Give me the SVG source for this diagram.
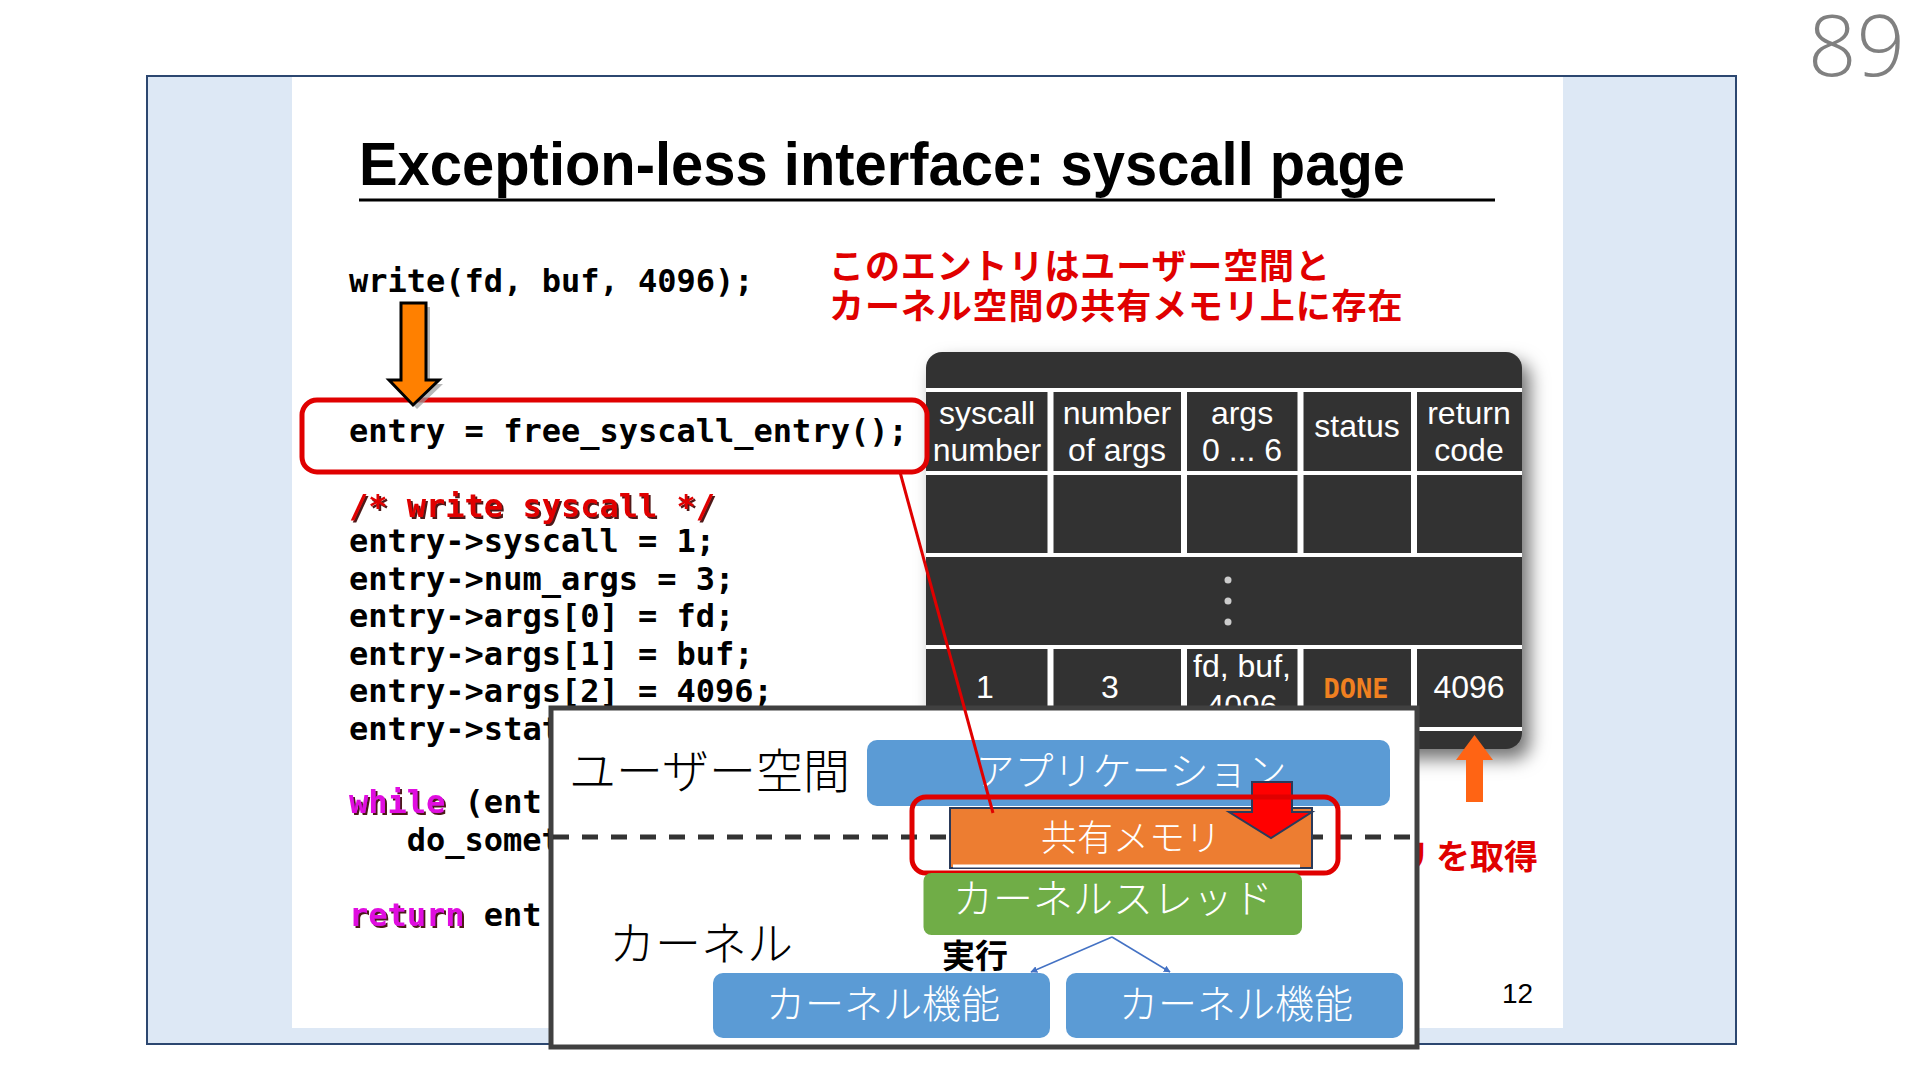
<svg xmlns="http://www.w3.org/2000/svg" width="1920" height="1080" viewBox="0 0 1920 1080">
<defs>
<style>
.code{font-family:"DejaVu Sans Mono","Liberation Mono",monospace;font-weight:bold;font-size:32px;fill:#000}
.kw{fill:#e010e0}
.cm{fill:#e00000}
.jp{font-family:"Noto Sans CJK JP","Noto Sans",sans-serif}
.red{fill:#e00000;font-weight:bold}
.tbl{font-family:"Liberation Sans",Arial,sans-serif;font-size:32px;fill:#fff;text-anchor:middle}
.wl{stroke:#fff;stroke-width:4}
.wv{stroke:#fff;stroke-width:6}
.boxtxt{font-family:"Noto Sans CJK JP",sans-serif;font-weight:300;fill:#fff;text-anchor:middle}
.lbl{font-family:"Noto Sans CJK JP",sans-serif;font-weight:300;fill:#000}
.blue{fill:#5b9bd5}
</style>
<filter id="shadow" x="-10%" y="-10%" width="130%" height="130%">
<feDropShadow dx="8" dy="10" stdDeviation="9" flood-color="#000" flood-opacity="0.55"/>
</filter>
<filter id="tsh" x="-5%" y="-20%" width="110%" height="140%">
<feDropShadow dx="2" dy="2" stdDeviation="0.4" flood-color="#3a0000" flood-opacity="0.9"/>
</filter>
<marker id="bah" viewBox="0 0 10 10" refX="9" refY="5" markerWidth="7" markerHeight="7" orient="auto" markerUnits="userSpaceOnUse">
<path d="M0,0 L10,5 L0,10 z" fill="#4472c4"/>
</marker>
</defs>

<g id="background">
<rect x="147" y="76" width="1589" height="968" fill="#dde8f5" stroke="#2c4770" stroke-width="2"/>
<rect x="292" y="77" width="1271" height="951" fill="#ffffff"/>
</g>

<g id="title">
<text x="359" y="185" font-family="Liberation Sans,Arial,sans-serif" font-weight="bold" font-size="62" textLength="1046" lengthAdjust="spacingAndGlyphs" fill="#000">Exception-less interface: syscall page</text>
<line x1="359" y1="200" x2="1495" y2="200" stroke="#000" stroke-width="3"/>
</g>

<g id="code">
<text class="code" x="349" y="292">write(fd, buf, 4096);</text>
<text class="code" x="349" y="442">entry = free_syscall_entry();</text>
<text class="code cm" x="349" y="517" filter="url(#tsh)">/* write syscall */</text>
<text class="code" x="349" y="552">entry-&gt;syscall = 1;</text>
<text class="code" x="349" y="590">entry-&gt;num_args = 3;</text>
<text class="code" x="349" y="627">entry-&gt;args[0] = fd;</text>
<text class="code" x="349" y="665">entry-&gt;args[1] = buf;</text>
<text class="code" x="349" y="702">entry-&gt;args[2] = 4096;</text>
<text class="code" x="349" y="740">entry-&gt;stat</text>
<text class="code kw" x="349" y="813" filter="url(#tsh)">while</text>
<text class="code" x="464.6" y="813">(ent</text>
<text class="code" x="406.7" y="851">do_somet</text>
<text class="code kw" x="349" y="926" filter="url(#tsh)">return</text>
<text class="code" x="483.8" y="926">ent</text>
</g>

<g id="note-shared">
<text class="jp red" font-size="35" letter-spacing="0.9"><tspan x="829" y="279">このエントリはユーザー空間と</tspan><tspan x="829" y="319">カーネル空間の共有メモリ上に存在</tspan></text>
</g>

<g id="syscall-page">
<rect x="926" y="352" width="596" height="397" rx="16" fill="#333333" filter="url(#shadow)"/>
<line class="wl" x1="926" y1="390" x2="1522" y2="390"/>
<line class="wl" x1="926" y1="473" x2="1522" y2="473"/>
<line class="wl" x1="926" y1="555" x2="1522" y2="555"/>
<line class="wl" x1="926" y1="647" x2="1522" y2="647"/>
<line class="wl" x1="926" y1="729" x2="1522" y2="729"/>
<line class="wv" x1="1050.5" y1="390" x2="1050.5" y2="555"/>
<line class="wv" x1="1184" y1="390" x2="1184" y2="555"/>
<line class="wv" x1="1300.5" y1="390" x2="1300.5" y2="555"/>
<line class="wv" x1="1414" y1="390" x2="1414" y2="555"/>
<line class="wv" x1="1050.5" y1="647" x2="1050.5" y2="729"/>
<line class="wv" x1="1184" y1="647" x2="1184" y2="729"/>
<line class="wv" x1="1300.5" y1="647" x2="1300.5" y2="729"/>
<line class="wv" x1="1414" y1="647" x2="1414" y2="729"/>
<text class="tbl" x="987" y="424">syscall</text>
<text class="tbl" x="987" y="461">number</text>
<text class="tbl" x="1117" y="424">number</text>
<text class="tbl" x="1117" y="461">of args</text>
<text class="tbl" x="1242" y="424">args</text>
<text class="tbl" x="1242" y="461">0 ... 6</text>
<text class="tbl" x="1357" y="437">status</text>
<text class="tbl" x="1469" y="424">return</text>
<text class="tbl" x="1469" y="461">code</text>
<circle cx="1228" cy="580" r="3.5" fill="#cccccc"/>
<circle cx="1228" cy="601" r="3.5" fill="#cccccc"/>
<circle cx="1228" cy="622" r="3.5" fill="#cccccc"/>
<text class="tbl" x="985" y="698">1</text>
<text class="tbl" x="1110" y="698">3</text>
<text class="tbl" x="1242" y="677">fd, buf,</text>
<text class="tbl" x="1242" y="717">4096</text>
<text x="1356" y="698" font-family="DejaVu Sans Mono,monospace" font-weight="bold" font-size="27" fill="#f08020" text-anchor="middle">DONE</text>
<text class="tbl" x="1469" y="698">4096</text>
</g>

<g id="entry-highlight">
<rect x="302" y="400" width="625" height="72" rx="15" fill="none" stroke="#e00000" stroke-width="5"/>
</g>

<g id="down-arrow">
<polygon points="405,307 430,307 430,384 443,384 417,409 393,384 405,384" fill="#9a9a9a" opacity="0.7"/>
<polygon points="401,303 426,303 426,380 439,380 413,405 389,380 401,380" fill="#ff8000" stroke="#000" stroke-width="3" stroke-linejoin="miter"/>
</g>

<g id="return-arrow">
<polygon points="1474.5,735 1493,760 1483,760 1483,802 1466,802 1466,760 1456,760" fill="#ff6414"/>
</g>

<g id="note-get">
<text class="jp red" x="1396" y="869" font-size="34">リ<tspan dx="6">を取得</tspan></text>
</g>

<g id="page-number">
<text x="1502" y="1003" font-family="Liberation Sans,Arial,sans-serif" font-size="28" fill="#000">12</text>
</g>

<g id="overlay">
<rect x="551" y="708" width="866" height="339" fill="#ffffff" stroke="#404040" stroke-width="5"/>
<line x1="553" y1="837" x2="1415" y2="837" stroke="#333" stroke-width="5" stroke-dasharray="16 13"/>
<text class="lbl" x="569" y="788" font-size="47">ユーザー空間</text>
<text class="lbl" x="609" y="960" font-size="46">カーネル</text>
</g>

<g id="app">
<rect class="blue" x="867" y="740" width="523" height="66" rx="10"/>
<text class="boxtxt" x="1131" y="785" font-size="39">アプリケーション</text>
</g>

<g id="shared-memory">
<rect x="950" y="808" width="362" height="60" fill="#ed7d31" stroke="#2a3a5a" stroke-width="2"/>
<line x1="953" y1="866" x2="1300" y2="866" stroke="#ffffff" stroke-width="3"/>
<text class="boxtxt" x="1131" y="851" font-size="36">共有メモリ</text>
<polygon points="1252,782 1292,782 1292,812 1312,812 1271,838 1229,812 1252,812" fill="#ff0000" stroke="#2a3a5a" stroke-width="2"/>
<rect x="912" y="797" width="426" height="76" rx="14" fill="none" stroke="#e00000" stroke-width="5"/>
</g>

<g id="kernel-thread">
<rect x="923.5" y="873" width="378.5" height="62" rx="8" fill="#70ad47"/>
<text class="boxtxt" x="1113" y="913" font-size="40">カーネルスレッド</text>
</g>

<g id="exec-label">
<text x="942" y="968" font-family="Noto Sans CJK JP,sans-serif" font-weight="bold" font-size="33" fill="#000">実行</text>
</g>

<g id="kernel-func-1">
<rect class="blue" x="713" y="973" width="337" height="65" rx="10"/>
<text class="boxtxt" x="883" y="1018" font-size="39">カーネル機能</text>
</g>

<g id="kernel-func-2">
<rect class="blue" x="1066" y="973" width="337" height="65" rx="10"/>
<text class="boxtxt" x="1236" y="1018" font-size="39">カーネル機能</text>
</g>

<g id="connectors">
<line x1="1112" y1="937" x2="1031" y2="972" stroke="#4472c4" stroke-width="1.5" marker-end="url(#bah)"/>
<line x1="1112" y1="937" x2="1170" y2="972" stroke="#4472c4" stroke-width="1.5" marker-end="url(#bah)"/>
<line x1="900" y1="472" x2="993" y2="813" stroke="#e00000" stroke-width="3"/>
</g>

<g id="slide-number">
<text x="1905" y="76" font-family="Open Sans,Lato,sans-serif" font-weight="300" font-size="85" fill="#808080" text-anchor="end">89</text>
</g>
</svg>
